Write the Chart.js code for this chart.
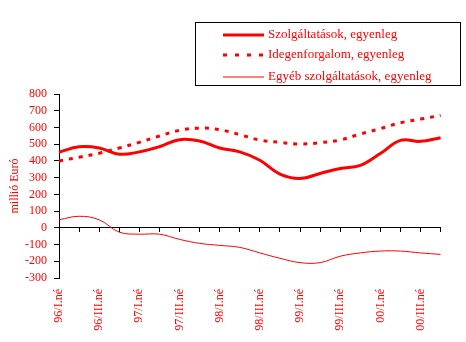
<!DOCTYPE html>
<html lang="hu">
<head>
    <meta charset="UTF-8">
    <title>Szolgáltatások egyenlege</title>
    <script src="https://cdn.jsdelivr.net/npm/chart.js"></script>
    <style>
        body { margin: 0; background: #fff; }
        .wrap { position: relative; width: 466px; height: 342px; }
        #chart { position: absolute; left: 0; top: 0; }
        .legend {
            position: absolute; left: 195px; top: 22px;
            width: 264px; height: 62px;
            border: 1px solid #000;
            font-family: "Liberation Serif", "Times New Roman", serif;
            font-size: 13px; color: #f00;
        }
        .legend .item { position: absolute; left: 27px; height: 16px; line-height: 16px; white-space: nowrap; }
        .legend svg { vertical-align: middle; margin-right: 4px; }
    </style>
</head>
<body>
    <div class="wrap">
        <canvas id="chart" width="466" height="342"></canvas>
        <div class="legend">
            <div class="item" style="top: 3px;">
                <svg width="41" height="6"><line x1="0" y1="3" x2="41" y2="3" stroke="#f00" stroke-width="3"/></svg>Szolgáltatások, egyenleg
            </div>
            <div class="item" style="top: 23px;">
                <svg width="41" height="6"><line x1="0" y1="3" x2="41" y2="3" stroke="#f00" stroke-width="3" stroke-dasharray="4 8"/></svg>Idegenforgalom, egyenleg
            </div>
            <div class="item" style="top: 45px;">
                <svg width="41" height="6"><line x1="0" y1="3" x2="41" y2="3" stroke="#f00" stroke-width="1"/></svg>Egyéb szolgáltatások, egyenleg
            </div>
        </div>
    </div>
    <script>
        // quarters 1996 Q1 .. 2000 Q4
        const quarters = [
            '96/I.né', '96/II.né', '96/III.né', '96/IV.né',
            '97/I.né', '97/II.né', '97/III.né', '97/IV.né',
            '98/I.né', '98/II.né', '98/III.né', '98/IV.né',
            '99/I.né', '99/II.né', '99/III.né', '99/IV.né',
            '00/I.né', '00/II.né', '00/III.né', '00/IV.né'
        ];

        // balances, million euro
        const services = [452, 484, 477, 440, 454, 485, 527, 519, 477, 454, 404, 321, 295, 325, 355, 373, 444, 523, 517, 539];
        const tourism  = [400, 422, 446, 477, 511, 549, 583, 596, 587, 557, 525, 511, 501, 509, 525, 561, 593, 628, 650, 672];
        const other    = [48, 69, 48, -26, -38, -38, -69, -93, -105, -117, -150, -182, -208, -208, -170, -150, -139, -139, -150, -159];

        const yMin = -300, yMax = 800, yStep = 100;

        const red = '#ff0000';
        const serif = '"Liberation Serif", "Times New Roman", serif';

        new Chart(document.getElementById('chart').getContext('2d'), {
            type: 'line',
            data: {
                labels: quarters,
                datasets: [{
                    label: 'Szolgáltatások, egyenleg',
                    data: services,
                    borderColor: red,
                    borderWidth: 3,
                    tension: 0.4
                }, {
                    label: 'Idegenforgalom, egyenleg',
                    data: tourism,
                    borderColor: red,
                    borderWidth: 3,
                    borderDash: [4, 6],
                    tension: 0.4
                }, {
                    label: 'Egyéb szolgáltatások, egyenleg',
                    data: other,
                    borderColor: red,
                    borderWidth: 1,
                    tension: 0.4
                }]
            },
            options: {
                responsive: false,
                animation: false,
                events: [],
                layout: { padding: { left: 0, right: 23, top: 94, bottom: 0 } },
                elements: { point: { radius: 0 } },
                plugins: {
                    legend: { display: false },
                    tooltip: { enabled: false }
                },
                scales: {
                    x: {
                        type: 'category',
                        position: { y: 0 },
                        offset: false,
                        grid: { drawOnChartArea: false, drawTicks: true, tickLength: 4, color: '#000' },
                        border: { display: true, color: '#000', width: 1 },
                        ticks: { display: false }
                    },
                    x2: {
                        type: 'category',
                        position: 'bottom',
                        offset: false,
                        grid: { display: false, drawTicks: false },
                        border: { display: false },
                        ticks: {
                            autoSkip: false,
                            minRotation: 90,
                            maxRotation: 90,
                            padding: 11,
                            color: red,
                            font: { family: serif, size: 12 },
                            callback: function(value, index) {
                                return index % 2 === 0 ? this.getLabelForValue(value) : '';
                            }
                        },
                        afterFit: scale => { scale.height = 342 - 278; }
                    },
                    y: {
                        min: yMin,
                        max: yMax,
                        grid: { drawOnChartArea: false, drawTicks: true, tickLength: 5, color: '#000' },
                        border: { display: true, color: '#000', width: 1 },
                        ticks: {
                            stepSize: yStep,
                            autoSkip: false,
                            padding: 7,
                            color: red,
                            font: { family: serif, size: 12 }
                        },
                        title: {
                            display: true,
                            text: 'millió Euró',
                            color: red,
                            font: { family: serif, size: 12 },
                            padding: { top: 8, bottom: 0 }
                        },
                        afterFit: scale => { scale.width = 59; }
                    }
                }
            }
        });
    </script>
</body>
</html>
